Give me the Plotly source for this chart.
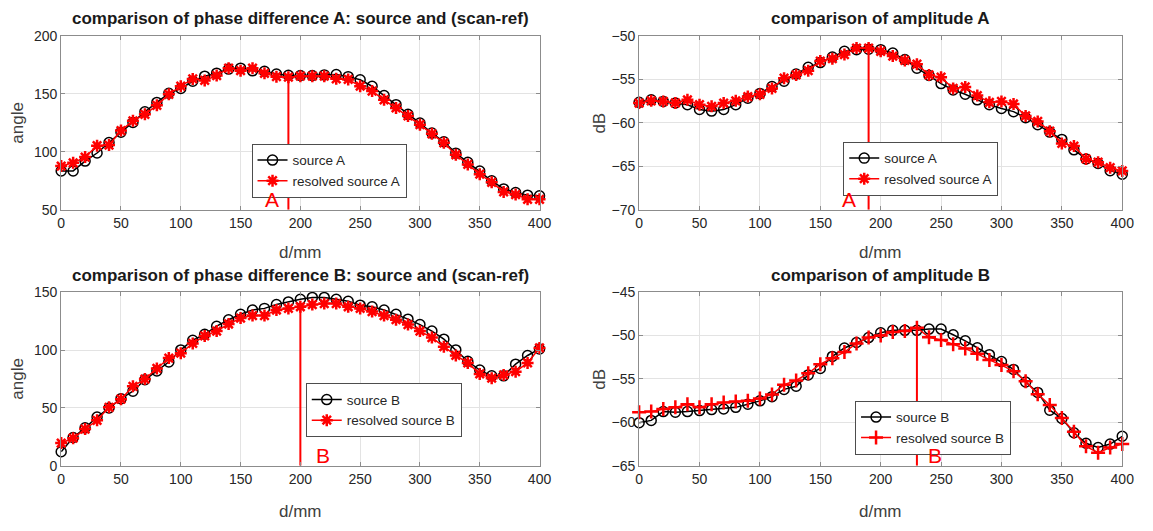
import plotly.graph_objects as go

# Scan positions (mm)
d_mm = list(range(0, 401, 10))

# Phase difference A (degrees)
phase_src_A = [83.5, 83.5, 92, 99, 108, 117, 125.4, 134.6, 142.7, 150.6, 154.7, 161, 165.4, 168,
               171.5, 172.3, 170, 169.6, 167.3, 166.2, 166, 166, 166.5, 166.8, 165, 162.3, 156.7,
               148.6, 140.8, 132.4, 124.9, 116.2, 108.7, 98.9, 91, 83.5, 75, 68, 64.8, 62.6, 62]
phase_res_A = [87.7, 90.5, 95.5, 105.3, 105.9, 118.4, 126.8, 132.4, 140.2, 149.7, 156.7, 163, 161.7,
               165.9, 172.3, 170.1, 172.3, 167.9, 165, 164.5, 165.4, 165.4, 165.4, 163.1, 162.6,
               156.7, 152.5, 145, 138, 131, 123.5, 115.6, 107.8, 97.5, 89.1, 80.7, 73.7, 65.4, 63.1,
               59, 59]

# Amplitude A (dB)
amp_src_A = [-57.63, -57.34, -57.52, -57.71, -57.9, -58.45, -58.64, -58.45, -57.9, -57.15, -56.6,
             -55.8, -55.2, -54.36, -53.6, -53.05, -52.4, -51.75, -51.56, -51.5, -51.56, -51.94,
             -52.7, -53.7, -54.54, -55.47, -56.2, -56.7, -57.34, -57.9, -58.34, -58.7, -59.4,
             -60.2, -61.06, -61.9, -63.1, -64.15, -64.67, -65.5, -65.9]
amp_res_A = [-57.71, -57.45, -57.52, -57.7, -57.34, -57.9, -58.08, -57.71, -57.45, -56.96, -56.7,
             -56.03, -54.84, -54.47, -53.98, -52.87, -52.6, -52.12, -51.38, -51.38, -51.75, -52.3,
             -52.8, -53.24, -54.47, -54.73, -56.03, -55.85, -56.85, -57.63, -57.52, -57.82, -59.2,
             -59.83, -60.95, -62.36, -62.66, -64.15, -64.52, -65.16, -65.53]

# Phase difference B (degrees)
phase_src_B = [12.1, 24.4, 32.8, 42.1, 49.9, 58, 64.5, 74.3, 81.9, 89.7, 100.1, 108.5, 113.6, 120.6,
               126.2, 130.9, 134.6, 136, 139.3, 141.6, 143.8, 145.5, 145.5, 143.8, 142.1, 138.8,
               137.4, 134.6, 130.9, 126.7, 122, 116.4, 109.4, 100.1, 90.3, 82.7, 77.7, 77.7, 87.8,
               95.3, 100.9]
phase_res_B = [19.6, 23.8, 31.7, 39.3, 50.5, 57.5, 68.7, 74.9, 84.1, 93.1, 97.3, 105.7, 112.2, 116.4,
               122.5, 127.6, 129.8, 129.8, 134.6, 136, 137.4, 139.3, 140.2, 140.2, 137.4, 136,
               133.2, 129.8, 126.2, 122, 116.4, 110.8, 102.9, 95.3, 88.9, 79.4, 75.7, 78.5, 81.3,
               88.9, 101.8]

# Amplitude B (dB)
amp_src_B = [-60.03, -59.77, -58.76, -58.83, -58.76, -58.64, -58.53, -58.46, -58.27, -57.9, -57.52,
             -57.04, -56.2, -55.84, -54.53, -53.79, -52.4, -51.43, -50.8, -50.23, -49.67, -49.4,
             -49.4, -49.4, -49.25, -49.25, -49.9, -50.6, -51.4, -52.2, -53, -53.9, -55.35, -56.55,
             -58.6, -59.55, -61.2, -62.4, -62.9, -62.5, -61.6]
amp_res_B = [-58.83, -58.76, -58.46, -58.27, -57.9, -58.27, -57.9, -57.7, -57.6, -57.52, -57.26,
             -56.78, -55.65, -55.17, -54.35, -53.3, -52.6, -51.9, -50.9, -50.23, -50, -49.6,
             -49.47, -49.1, -50.2, -50.5, -51, -51.5, -52.1, -52.8, -53.4, -54.1, -55.25, -56.75,
             -58, -59.5, -61.07, -62.76, -63.5, -62.9, -62.5]

# Located source positions (mm) and the value where each marker line stops
loc_A = 190
loc_B_phase = 200
loc_B_amp = 230
loc_top = [166.2, -51.4, 137.4, -49.1]

# Label positions for the source letters
letter_x = [176, 174, 219, 245]

FONT = "Liberation Sans, Arial, sans-serif"
TXT = "#262626"
GRID = "#e3e3e3"

panels = [
    dict(title="comparison of phase difference A: source and (scan-ref)", ylab="angle",
         yr=[50, 200], dt=50, src=phase_src_A, res=phase_res_A, loc=loc_A, letter="A",
         names=["source A", "resolved source A"], sym="asterisk-open",
         xd=[0.0503, 0.4710], yd=[0.6083, 0.9454], leg=(0.2177, 0.7363),
         xlab_y=0.5254, ylab_x=0.0121),
    dict(title="comparison of amplitude A", ylab="dB",
         yr=[-70, -50], dt=5, src=amp_src_A, res=amp_res_A, loc=loc_A, letter="A",
         names=["source A", "resolved source A"], sym="asterisk-open",
         xd=[0.5586, 0.9835], yd=[0.6083, 0.9454], leg=(0.7381, 0.7401),
         xlab_y=0.5254, ylab_x=0.5239),
    dict(title="comparison of phase difference B: source and (scan-ref)", ylab="angle",
         yr=[0, 150], dt=50, src=phase_src_B, res=phase_res_B, loc=loc_B_phase, letter="B",
         names=["source B", "resolved source B"], sym="asterisk-open",
         xd=[0.0503, 0.4710], yd=[0.1111, 0.4482], leg=(0.2654, 0.2712),
         xlab_y=0.0226, ylab_x=0.0121),
    dict(title="comparison of amplitude B", ylab="dB",
         yr=[-65, -45], dt=5, src=amp_src_B, res=amp_res_B, loc=loc_B_amp, letter="B",
         names=["source B", "resolved source B"], sym="cross-thin-open",
         xd=[0.5586, 0.9835], yd=[0.1111, 0.4482], leg=(0.7485, 0.2373),
         xlab_y=0.0226, ylab_x=0.5239),
]

fig = go.Figure()
annotations = []
layout = dict(
    width=1153, height=531,
    margin=dict(l=0, r=0, t=0, b=0),
    paper_bgcolor="white", plot_bgcolor="white",
    font=dict(family=FONT, color=TXT),
)

for i, p in enumerate(panels):
    n = i + 1
    xa = "x" if n == 1 else f"x{n}"
    ya = "y" if n == 1 else f"y{n}"
    lg = "legend" if n == 1 else f"legend{n}"

    fig.add_trace(go.Scatter(
        x=d_mm, y=p["src"], mode="lines+markers", name=p["names"][0],
        line=dict(color="black", width=1.5),
        marker=dict(symbol="circle-open", size=10, color="black", line=dict(width=1.5)),
        xaxis=xa, yaxis=ya, legend=lg, cliponaxis=False))
    fig.add_trace(go.Scatter(
        x=d_mm, y=p["res"], mode="lines+markers", name=p["names"][1],
        line=dict(color="red", width=1.5),
        marker=dict(symbol=p["sym"], size=10, color="red", line=dict(width=2.5, color="red")),
        xaxis=xa, yaxis=ya, legend=lg, cliponaxis=False))
    # marker line at the located source position
    fig.add_trace(go.Scatter(
        x=[p["loc"], p["loc"]], y=[p["yr"][0], loc_top[i]], mode="lines",
        line=dict(color="red", width=2), showlegend=False, hoverinfo="skip",
        xaxis=xa, yaxis=ya))

    axis_common = dict(
        showgrid=True, gridcolor=GRID, gridwidth=1,
        showline=True, linecolor="#8c8c8c", linewidth=1, mirror="ticks",
        ticks="inside", ticklen=4, tickcolor="#8c8c8c",
        tickfont=dict(size=14, color=TXT, family=FONT), zeroline=False,
    )
    layout["xaxis" if n == 1 else f"xaxis{n}"] = dict(
        axis_common, domain=p["xd"], anchor=ya, range=[0, 400], tick0=0, dtick=50)
    layout["yaxis" if n == 1 else f"yaxis{n}"] = dict(
        axis_common, domain=p["yd"], anchor=xa, range=p["yr"], tick0=p["yr"][0], dtick=p["dt"])
    layout[lg] = dict(
        x=p["leg"][0], y=p["leg"][1], xanchor="left", yanchor="top",
        bordercolor="#4d4d4d", borderwidth=1, bgcolor="white",
        font=dict(size=13.5, color=TXT, family=FONT), itemwidth=30, tracegroupgap=0)

    annotations.append(dict(
        text=f"<b>{p['title']}</b>", xref="paper", yref="paper",
        x=(p["xd"][0] + p["xd"][1]) / 2, y=p["yd"][1] + 0.011,
        xanchor="center", yanchor="bottom", showarrow=False,
        font=dict(size=17, color="#1a1a1a", family=FONT)))
    annotations.append(dict(
        text="d/mm", xref="paper", yref="paper",
        x=(p["xd"][0] + p["xd"][1]) / 2, y=p["xlab_y"],
        xanchor="center", yanchor="middle", showarrow=False,
        font=dict(size=17, color="#404040", family=FONT)))
    annotations.append(dict(
        text=p["ylab"], xref="paper", yref="paper", textangle=-90,
        x=p["ylab_x"], y=(p["yd"][0] + p["yd"][1]) / 2,
        xanchor="center", yanchor="middle", showarrow=False,
        font=dict(size=17, color="#404040", family=FONT)))
    annotations.append(dict(
        text=p["letter"], xref=xa, yref=ya, x=letter_x[i], y=p["yr"][0],
        xanchor="center", yanchor="bottom", yshift=-2, showarrow=False,
        borderpad=0, font=dict(size=21, color="red", family=FONT)))

layout["annotations"] = annotations
fig.update_layout(**layout)
fig.write_html("out.html")
